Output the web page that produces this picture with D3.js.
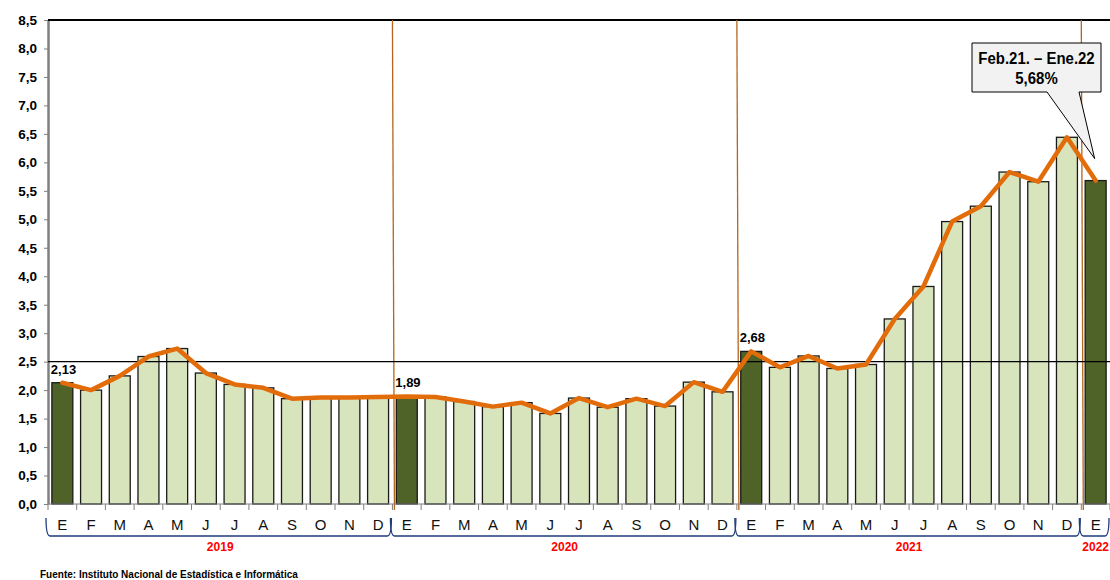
<!DOCTYPE html>
<html>
<head>
<meta charset="utf-8">
<script src="https://cdn.jsdelivr.net/npm/d3@7"></script>
<style>
  html, body { margin: 0; padding: 0; background: #fff; }
  svg { display: block; font-family: "Liberation Sans", Arial, sans-serif; }
</style>
</head>
<body>
<svg id="chart" width="1110" height="580"></svg>
<script>
// monthly variation data, Jan 2019 - Jan 2022
const months = ['E','F','M','A','M','J','J','A','S','O','N','D',
                'E','F','M','A','M','J','J','A','S','O','N','D',
                'E','F','M','A','M','J','J','A','S','O','N','D',
                'E'];
const values = [2.13, 2.00, 2.25, 2.59, 2.73, 2.30, 2.10, 2.04, 1.85, 1.87, 1.87, 1.88,
                1.89, 1.88, 1.80, 1.71, 1.78, 1.59, 1.86, 1.70, 1.85, 1.72, 2.14, 1.97,
                2.68, 2.40, 2.60, 2.38, 2.45, 3.25, 3.82, 4.96, 5.23, 5.83, 5.66, 6.44,
                5.68];
const years = ['2019', '2020', '2021', '2022'];
const yearStart = [0, 12, 24, 36];
const yearEnd = [12, 24, 36, 37];
const labelled = [0, 12, 24];   // January bars that carry a value label
const yTicks = d3.range(0, 8.51, 0.5);
const refValue = 2.5;
const callout = ['Feb.21. – Ene.22', '5,68%'];
const source = 'Fuente: Instituto Nacional de Estadística e Informática';

const svg = d3.select('#chart');
const plotL = 48, plotR = 1110, plotT = 20, plotB = 504;

const x = d3.scaleBand()
    .domain(d3.range(values.length))
    .range([plotL, plotR])
    .paddingInner(0.27)
    .paddingOuter(0.135);
const step = x.step();
const edge = i => plotL + i * step;   // category boundary

const y = d3.scaleLinear().domain([0, 8.5]).range([plotB, plotT]);

const fmt = v => d3.format('.1f')(v).replace('.', ',');
const fmt2 = v => d3.format('.2f')(v).replace('.', ',');

// y axis
const yAxis = svg.append('g')
    .attr('transform', `translate(${plotL},0)`)
    .call(d3.axisLeft(y).tickValues(yTicks).tickFormat(fmt).tickSize(4).tickSizeOuter(0));
yAxis.select('.domain').attr('stroke', '#808080').attr('stroke-width', 2.5);
yAxis.selectAll('.tick line').attr('stroke', '#808080');
yAxis.selectAll('.tick text')
    .attr('x', -11)
    .attr('font-size', 13.5)
    .attr('font-weight', 'bold')
    .attr('fill', '#000')
    .attr('font-family', '"Liberation Sans", Arial, sans-serif');

// top border
svg.append('line')
    .attr('x1', plotL).attr('x2', plotR)
    .attr('y1', plotT).attr('y2', plotT)
    .attr('stroke', '#000').attr('stroke-width', 2);

// year dividers
svg.append('g').selectAll('line')
    .data(yearStart.slice(1))
    .join('line')
    .attr('x1', d => edge(d)).attr('x2', d => edge(d) + 2)
    .attr('y1', plotT).attr('y2', plotB + 6)
    .attr('stroke', '#b5651d').attr('stroke-width', 1.3);

// bars
svg.append('g').selectAll('rect')
    .data(values)
    .join('rect')
    .attr('x', (d, i) => x(i))
    .attr('y', d => y(d))
    .attr('width', x.bandwidth())
    .attr('height', d => plotB - y(d))
    .attr('fill', (d, i) => i % 12 === 0 ? '#4f6228' : '#d8e4bc')
    .attr('stroke', '#1a1a1a')
    .attr('stroke-width', 1.3);

// reference line at 2.5
svg.append('line')
    .attr('x1', plotL).attr('x2', plotR)
    .attr('y1', y(refValue)).attr('y2', y(refValue))
    .attr('stroke', '#000').attr('stroke-width', 1.2);

// orange line
const line = d3.line()
    .x((d, i) => x(i) + x.bandwidth() / 2)
    .y(d => y(d));
svg.append('path')
    .datum(values)
    .attr('d', line)
    .attr('fill', 'none')
    .attr('stroke', '#e36c0a')
    .attr('stroke-width', 4.5)
    .attr('stroke-linejoin', 'round')
    .attr('stroke-linecap', 'round');

// value labels on january bars
svg.append('g').selectAll('text')
    .data(labelled)
    .join('text')
    .attr('x', i => x(i) - 1)
    .attr('y', i => y(values[i]) - 9)
    .attr('font-size', 13)
    .attr('font-weight', 'bold')
    .text(i => fmt2(values[i]));

// x axis ticks
svg.append('line')
    .attr('x1', plotL).attr('x2', plotR)
    .attr('y1', plotB).attr('y2', plotB)
    .attr('stroke', '#808080').attr('stroke-width', 1);
svg.append('g').selectAll('line')
    .data(d3.range(values.length + 1))
    .join('line')
    .attr('x1', d => edge(d)).attr('x2', d => edge(d))
    .attr('y1', plotB).attr('y2', plotB + 6)
    .attr('stroke', '#808080');

// month labels
svg.append('g').selectAll('text')
    .data(months)
    .join('text')
    .attr('x', (d, i) => x(i) + x.bandwidth() / 2)
    .attr('y', 530)
    .attr('text-anchor', 'middle')
    .attr('font-size', 15)
    .attr('fill', '#111')
    .text(d => d);

// year braces
const braces = svg.append('g');
years.forEach((yr, k) => {
    const x0 = edge(yearStart[k]) - 2;
    const x1 = Math.min(edge(yearEnd[k]) - 1, plotR + 20);
    braces.append('path')
        .attr('d', `M${x0},518 Q${x0},536 ${x0 + 4},536 H${x1 - 4} Q${x1},536 ${x1},518`)
        .attr('fill', 'none')
        .attr('stroke', '#1f3b7a')
        .attr('stroke-width', 1.3);
    braces.append('text')
        .attr('x', (edge(yearStart[k]) + edge(yearEnd[k])) / 2)
        .attr('y', 551)
        .attr('text-anchor', 'middle')
        .attr('font-size', 12)
        .attr('font-weight', 'bold')
        .attr('fill', '#ff0000')
        .text(yr);
});

// callout box
const last = values.length - 1;
const bx0 = 972, bx1 = 1101, by0 = 43, by1 = 92;
const tipX = x(last) + x.bandwidth() / 2 - 1, tipY = y(values[last]) - 22;
svg.append('path')
    .attr('d', `M${bx0},${by0} H${bx1} V${by1} H1079 L${tipX},${tipY} L1047,${by1} H${bx0} Z`)
    .attr('fill', '#f2f2f2')
    .attr('stroke', '#000')
    .attr('stroke-width', 1);
const cx = (bx0 + bx1) / 2;
svg.append('g')
    .attr('transform', `translate(${cx},0) scale(0.88,1)`)
    .selectAll('text')
    .data(callout)
    .join('text')
    .attr('x', 0)
    .attr('y', (d, i) => 64 + i * 20)
    .attr('text-anchor', 'middle')
    .attr('font-size', 17)
    .attr('font-weight', 'bold')
    .text(d => d);

// source note
svg.append('text')
    .attr('x', 40)
    .attr('y', 578)
    .attr('font-size', 10)
    .attr('font-weight', 'bold')
    .text(source);
</script>
</body>
</html>
